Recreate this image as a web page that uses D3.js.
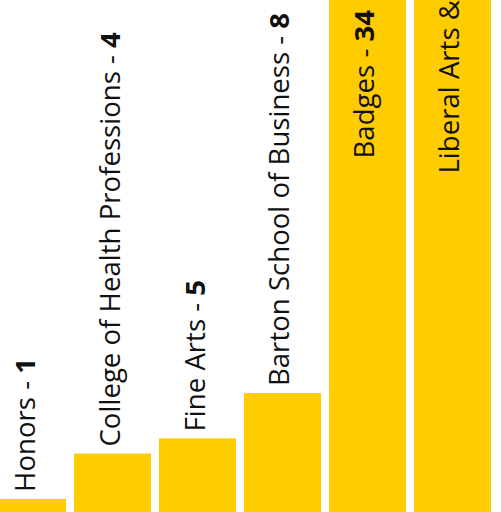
<!DOCTYPE html>
<html>
<head>
<meta charset="utf-8">
<script src="https://d3js.org/d3.v7.min.js"></script>
<style>
	body { margin: 0; background: #fff; }
	svg { display: block; }
</style>
</head>
<body>
<svg></svg>
<script>
var svg_width = 501, svg_height = 512;

var categories = ["Honors", "College of Health Professions", "Fine Arts", "Barton School of Business", "Badges", "Liberal Arts & Sciences"];
var values = [1, 4, 5, 8, 34, 46];

var x = d3.scaleBand()
	.domain(categories)
	.range([-11, 491])
	.paddingInner(0.094)
	.paddingOuter(0);

var y = d3.scaleLinear()
	.domain([0, 34])
	.range([514, 0]);

var data = categories.map(function (c, i) { return { name: c, value: values[i] }; });

var svg = d3.select("svg")
	.attr("width", svg_width)
	.attr("height", svg_height);

svg.selectAll(".bar")
	.data(data)
	.enter().append("rect")
	.attr("class", "bar")
	.attr("x", function (d) { return x(d.name); })
	.attr("y", function (d) { return y(d.value); })
	.attr("width", x.bandwidth())
	.attr("height", function (d) { return y(0) - y(d.value); })
	.attr("fill", "#ffcc00");

// labels sit above short bars, inside tall ones
var label = svg.selectAll(".label")
	.data(data)
	.enter().append("text")
	.attr("class", "label")
	.attr("transform", function (d) {
		var cx = x(d.name) + x.bandwidth() / 2;
		var ty = d.value > 20 ? y(d.value) + 10 : y(d.value) - 7;
		return "translate(" + cx + "," + ty + ") rotate(-90)";
	})
	.attr("dy", 7)
	.attr("text-anchor", function (d) { return d.value > 20 ? "end" : "start"; })
	.attr("font-family", "'Open Sans', sans-serif")
	.attr("font-size", 27.6)
	.attr("fill", "#111");

label.append("tspan").text(function (d) { return d.name + " - "; });
label.append("tspan")
	.attr("font-weight", "bold")
	.text(function (d) { return d.value; });
</script>
</body>
</html>
